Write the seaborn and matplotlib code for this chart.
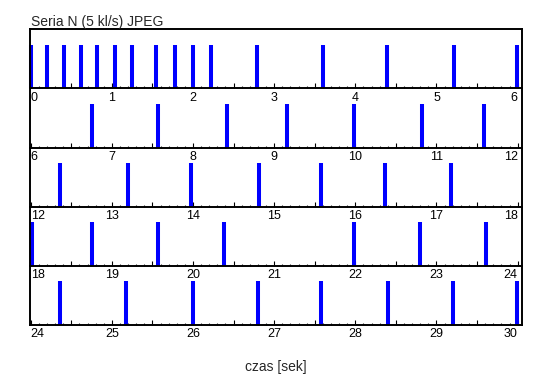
import numpy as np
import pandas as pd
import matplotlib
matplotlib.use("Agg")
import matplotlib.pyplot as plt
import seaborn as sns

# Event times (seconds)
events = [0.0, 0.197, 0.406, 0.615, 0.815, 1.033, 1.242, 1.545, 1.783, 2.005, 2.218, 2.783,
          3.596, 4.395, 5.219, 5.994,
          6.75, 7.566, 8.415, 9.161, 9.989, 10.825, 11.588,
          12.36, 13.197, 13.972, 14.817, 15.583, 16.37, 17.18,
          18.016, 18.75, 19.566, 20.378, 21.989, 22.8, 23.61,
          24.36, 25.18, 26.0, 26.8, 27.583, 28.407, 29.2, 29.99]
row_starts = [0, 6, 12, 18, 24]
row_span = 6
title = "Seria N (5 kl/s) JPEG"
xlabel = "czas [sek]"

sns.set_style("white")
plt.rcParams["font.family"] = ["Liberation Sans", "DejaVu Sans"]

df = pd.DataFrame({"t": events})
# assign each event to the row whose window [start, start+6] contains it (first match)
df["row"] = [next(i for i, s in enumerate(row_starts) if s <= t <= s + row_span) for t in df["t"]]
df.loc[(df["t"] - 18.016).abs() < 1e-6, "row"] = 3

fig = plt.figure(figsize=(5.5, 3.89), dpi=100)
left, right, top, bottom = 30.3 / 550, 521.7 / 550, 1 - 29.3 / 389, 1 - 325 / 389
h = (top - bottom) / len(row_starts)
for i, s in enumerate(row_starts):
    ax = fig.add_axes([left, top - (i + 1) * h, right - left, h])
    ax.patch.set_visible(False)
    sub = df[df["row"] == i]
    sns.rugplot(x=sub["t"], ax=ax, height=0.74, color="#0000ff", linewidth=2.9,
                expand_margins=False, clip_on=False)
    ax.set_xlim(s - 0.005, s + 6.05)
    ax.set_ylim(0, 1)
    ax.set_yticks([])
    ax.set_xlabel("")
    ax.set_ylabel("")
    for sp in ["left", "right", "bottom"]:
        ax.spines[sp].set_visible(True)
        ax.spines[sp].set_linewidth(1.4)
        ax.spines[sp].set_color("black")
    ax.spines["top"].set_visible(i == 0)
    ax.spines["top"].set_linewidth(1.4)
    ax.spines["top"].set_color("black")
    majors = np.arange(s, s + row_span + 0.001, 0.5)
    labels = [str(int(round(m))) if abs(m - round(m)) < 1e-6 else "" for m in majors]
    ax.set_xticks(majors)
    ax.set_xticklabels(labels)
    ax.set_xticks(np.arange(s, s + row_span + 0.001, 0.1), minor=True)
    ax.tick_params(axis="x", which="major", direction="in", length=3.4, width=0.8,
                   labelsize=9, pad=2.5, colors="black", bottom=True)
    ax.tick_params(axis="x", which="minor", direction="in", length=1.8, width=0.8,
                   bottom=True)
    tl = ax.get_xticklabels()
    tl[0].set_ha("left")
    tl[-1].set_ha("right")
    if i == 0:
        ax.set_title(title, loc="left", fontsize=10, pad=2.5, x=0.002)

fig.text((left + right) / 2, 1 - 367 / 389, xlabel, ha="center", va="center", fontsize=10)
fig.savefig("out.png", dpi=100)
